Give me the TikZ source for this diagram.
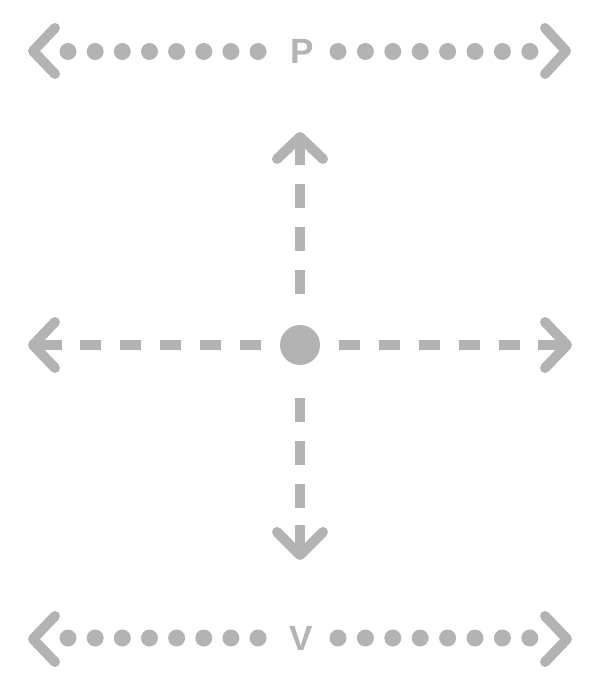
\documentclass[tikz,border=0pt]{standalone}
\usepackage{fontspec}
\setmainfont{Liberation Sans}
\definecolor{g}{RGB}{179,179,179}
\begin{document}
\begin{tikzpicture}[x=1pt,y=-1pt]
\tikzset{
  ink/.style={draw=g, line width=10pt, line cap=round, line join=round},
  shaft/.style={draw=g, line width=10pt, line cap=butt},
  dashline/.style={draw=g, line width=10pt, line cap=butt},
  hdash/.style={dashline, dash pattern=on 21pt off 19pt},
  vdash/.style={dashline, dash pattern=on 24pt off 19pt},
  dot/.style={circle, fill=g, minimum size=17pt, inner sep=0pt},
  lbl/.style={text=g, font=\fontsize{35}{35}\selectfont\bfseries, inner sep=0pt}
}
\useasboundingbox (0,0) rectangle (600,690);

% top row
\node[lbl] (P) at (302,51) {P};
\draw[ink] (55,28) -- (33,51) -- (55,74);
\draw[ink] (545,28) -- (566,51) -- (545,74);
\foreach \i in {0,...,7} {
  \node[dot] (pl\i) at ({68+27.15*\i},51.5) {};
  \node[dot] (pr\i) at ({338+27.4*\i},51.5) {};
}

% bottom row
\node[lbl] (V) at (301.5,638) {V};
\draw[ink] (55,616) -- (33,639) -- (55,662);
\draw[ink] (545,616) -- (567,639) -- (545,662);
\foreach \i in {0,...,7} {
  \node[dot] (vl\i) at ({68+27.15*\i},638) {};
  \node[dot] (vr\i) at ({338+27.4*\i},638) {};
}

% centre
\node[circle, fill=g, minimum size=40pt, inner sep=0pt] (c) at (300,345) {};

% right arrow
\coordinate (rd) at (339,345);
\coordinate (rs) at (538,345);
\coordinate (rt) at (567,345);
\draw[hdash] (rd) -- (rs);
\draw[shaft] (rs) -- (rt);
\draw[ink] (545,322) -- (rt) -- (545,368);

% left arrow
\coordinate (ld) at (261,345);
\coordinate (ls) at (62,345);
\coordinate (lt) at (33,345);
\draw[hdash] (ld) -- (ls);
\draw[shaft] (ls) -- (lt);
\draw[ink] (55,322) -- (lt) -- (55,368);

% up arrow
\coordinate (ud) at (300,294);
\coordinate (us) at (300,165);
\coordinate (ut) at (300,137);
\draw[vdash] (ud) -- (us);
\draw[shaft] (us) -- (ut);
\draw[ink] (277,159) -- (ut) -- (323,159);

% down arrow
\coordinate (dd) at (300,398);
\coordinate (ds) at (300,525);
\coordinate (dt) at (300,555);
\draw[vdash] (dd) -- (ds);
\draw[shaft] (ds) -- (dt);
\draw[ink] (277,532) -- (dt) -- (323,532);
\end{tikzpicture}
\end{document}
